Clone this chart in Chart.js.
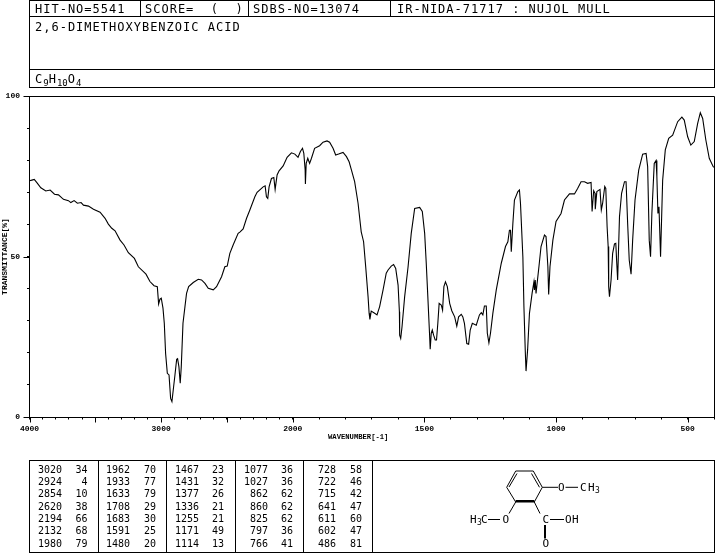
<!DOCTYPE html>
<html>
<head>
<meta charset="utf-8">
<style>
html,body{margin:0;padding:0;background:#fff;width:715px;height:553px;overflow:hidden}
#wrap{position:relative;width:715px;height:553px}
canvas{position:absolute;left:0;top:0;display:block}
.t{position:absolute;font-family:"DejaVu Sans Mono",monospace;color:#000;white-space:pre;line-height:1}
.h{font-size:12px;letter-spacing:1px}
.n{font-size:10px;text-align:right}
.b{position:absolute;background:#000}
sub{font-size:9px;vertical-align:baseline;position:relative;top:3px;letter-spacing:0}
svg{position:absolute;left:0;top:0}
svg text{font-family:"DejaVu Sans Mono",monospace;font-size:11px;fill:#000}
</style>
</head>
<body>
<div id="wrap"><canvas id="c" width="715" height="553"></canvas></div>
<script src="https://cdn.jsdelivr.net/npm/chart.js@4/dist/chart.umd.js"></script>
<script>
const wavenumbers = [4000,3982,3964,3944,3914,3876,3843,3810,3780,3742,3704,3686,3661,3636,3608,3590,3552,3514,3464,3426,3401,3375,3350,3312,3282,3249,3203,3173,3115,3085,3054,3029,3019,3009,2999,2986,2976,2966,2953,2940,2928,2918,2908,2895,2882,2875,2865,2855,2847,2834,2819,2807,2791,2756,2718,2693,2667,2642,2604,2579,2541,2516,2498,2478,2453,2415,2402,2377,2351,2326,2288,2271,2225,2210,2200,2190,2180,2162,2144,2134,2129,2119,2104,2073,2043,2010,1992,1980,1971,1963,1958,1953,1952,1949,1943,1936,1929,1917,1898,1885,1870,1860,1847,1837,1826,1809,1796,1786,1777,1765,1752,1740,1731,1723,1714,1710,1707,1702,1689,1680,1670,1657,1645,1638,1626,1617,1609,1600,1595,1594,1590,1585,1575,1562,1550,1537,1518,1508,1499,1493,1487,1480,1478,1474,1470,1465,1459,1454,1449,1444,1436,1431,1426,1420,1413,1404,1396,1385,1377,1370,1360,1354,1348,1339,1332,1326,1318,1303,1291,1284,1278,1272,1265,1261,1255,1249,1240,1227,1208,1192,1183,1177,1173,1170,1164,1158,1145,1139,1135,1126,1122,1117,1114,1108,1101,1091,1084,1082,1079,1076,1065,1057,1044,1038,1031,1028,1023,1012,1000,981,968,949,930,918,905,892,880,867,863,861,857,852,851,845,833,828,823,815,811,806,802,800,797,791,785,778,773,770,766,759,751,740,734,728,722,715,709,700,686,671,658,652,646,641,636,627,620,617,613,609,603,595,585,572,557,538,522,513,500,488,475,462,452,443,431,418,403,400];
const transmittance = [73.6,73.8,74.0,73.0,71.4,70.4,70.7,69.4,69.2,67.8,67.4,66.8,67.4,66.6,66.8,66.0,65.7,64.7,63.8,61.9,60.1,58.8,58.0,55.1,53.6,51.2,49.4,46.8,44.5,42.2,40.9,40.6,35.2,36.7,37.0,33.9,29.2,19.8,13.6,13.1,5.8,4.8,8.4,13.1,18.0,18.2,15.7,10.5,15.7,29.2,34.4,38.5,40.6,41.9,42.9,42.7,41.6,40.1,39.6,40.6,43.7,46.8,47.0,51.0,53.6,57.2,57.6,58.6,61.9,64.5,68.6,70.0,71.7,72.0,68.6,68.1,71.7,74.3,74.6,70.9,70.9,75.4,76.7,78.2,80.9,82.3,81.9,80.9,82.7,83.7,82.1,77.0,72.6,79.0,80.6,79.0,80.6,83.7,84.5,85.6,86.0,85.6,83.7,81.6,81.9,82.4,81.1,79.5,76.9,73.3,66.6,57.7,54.6,46.8,37.5,32.3,30.4,33.0,32.3,31.8,34.4,39.6,44.8,45.8,47.0,47.5,46.3,41.1,32.8,25.5,24.5,28.1,37.5,46.8,57.2,65.0,65.3,64.0,57.2,47.9,37.5,25.0,21.1,26.1,27.1,25.5,24.0,24.0,29.2,35.4,34.9,33.3,40.6,42.1,40.6,35.4,33.1,31.2,28.3,31.2,32.0,31.2,29.2,22.9,22.7,27.1,29.2,28.6,31.8,32.5,31.8,34.6,34.6,26.1,23.1,26.1,32.3,39.6,47.9,53.1,54.6,58.2,58.2,51.5,60.3,67.6,70.2,70.7,66.5,49.9,34.4,20.9,14.3,20.9,32.3,38.5,42.1,39.6,42.7,38.5,46.8,53.1,56.7,56.2,46.8,38.2,46.8,55.1,60.9,63.4,67.6,69.5,69.5,71.2,73.3,73.3,72.8,73.1,64.0,64.0,70.5,69.7,64.7,70.2,70.9,64.5,66.6,71.8,71.2,59.3,53.1,40.6,37.5,42.7,51.0,53.9,54.1,48.9,42.7,62.4,69.7,73.3,73.3,60.3,48.9,44.5,55.1,67.6,76.9,81.9,82.1,78.0,55.1,49.9,63.4,79.0,79.9,74.9,63.4,65.5,49.9,73.8,83.2,86.8,87.8,92.0,93.4,92.5,87.3,84.7,85.8,91.5,94.8,93.0,86.3,80.6,78.0,77.8];

const xTicks = [4000,3900,3800,3700,3600,3500,3400,3300,3200,3100,3000,2900,2800,2700,2600,2500,2400,2300,2200,2100,2000,1900,1800,1700,1600,1500,1400,1300,1200,1100,1000,900,800,700,600,500,400];
const xMajorTicks = [4000,3500,3000,2500,2000,1500,1000,500];
const xLabels = [4000,3000,2000,1500,1000,500];
const yMajorTicks = [0,50,100];

const xTitle = "WAVENUMBER[-1]";
const yTitle = "TRANSMITTANCE[%]";
const headerHit = "HIT-NO=5541";
const headerScore = "SCORE=  (  )";
const headerSdbs = "SDBS-NO=13074";
const headerIr = "IR-NIDA-71717 : NUJOL MULL";
const compoundName = "2,6-DIMETHOXYBENZOIC ACID";

const peakCol1 = [[3020,34],[2924,4],[2854,10],[2620,38],[2194,66],[2132,68],[1980,79]];
const peakCol2 = [[1962,70],[1933,77],[1633,79],[1708,29],[1683,30],[1591,25],[1480,20]];
const peakCol3 = [[1467,23],[1431,32],[1377,26],[1336,21],[1255,21],[1171,49],[1114,13]];
const peakCol4 = [[1077,36],[1027,36],[862,62],[860,62],[825,62],[797,36],[766,41]];
const peakCol5 = [[728,58],[722,46],[715,42],[641,47],[611,60],[602,47],[486,81]];

class IRScale extends Chart.LinearScale {
  static id = 'irscale';
  static defaults = Chart.LinearScale.defaults;
  _u(v){ return v >= 2000 ? 4000 - v : 2000 + (2000 - v) * 2; }
  getPixelForValue(v){ return this.left + this.width * this._u(v) / 5200; }
  getValueForPixel(p){
    const u = (p - this.left) / this.width * 5200;
    return u <= 2000 ? 4000 - u : 2000 - (u - 2000) / 2;
  }
}
Chart.register(IRScale);

const FONT = '"Liberation Mono", monospace';
const frame = {
  id:'frame',
  afterDraw(chart){
    const {ctx, chartArea:a, scales:{x,y}} = chart;
    ctx.save();
    ctx.strokeStyle='#000'; ctx.lineWidth=1;
    ctx.beginPath();
    ctx.moveTo(a.left, a.top+.5); ctx.lineTo(a.right+.5, a.top+.5); ctx.lineTo(a.right+.5, a.bottom);
    xMajorTicks.forEach(v=>{const p=Math.round(x.getPixelForValue(v))+.5; ctx.moveTo(p,a.bottom); ctx.lineTo(p,a.bottom+5.5);});
    yMajorTicks.forEach(v=>{const p=Math.round(y.getPixelForValue(v))+.5; ctx.moveTo(a.left,p); ctx.lineTo(a.left-6,p);});
    ctx.stroke();
    ctx.fillStyle='#000';
    ctx.font='bold 7.2px '+FONT;
    ctx.textAlign='left'; ctx.textBaseline='middle';
    ctx.fillText(xTitle,328,437.5);
    ctx.restore();
  }
};

new Chart(document.getElementById('c'),{
  type:'line',
  data:{datasets:[{
    data:wavenumbers.map((w,i)=>({x:w,y:transmittance[i]})),
    borderColor:'#000',borderWidth:1.1,pointRadius:0,tension:0,fill:false
  }]},
  options:{
    responsive:false,animation:false,devicePixelRatio:1,
    layout:{autoPadding:false,padding:{top:96,right:1,left:0,bottom:0}},
    plugins:{legend:{display:false},tooltip:{enabled:false},title:{display:false}},
    scales:{
      x:{
        type:'irscale',min:400,max:4000,
        afterBuildTicks(s){s.ticks=xTicks.map(v=>({value:v}));},
        afterFit(s){s.height=136;s.paddingLeft=0;s.paddingRight=0;},
        border:{display:true,color:'#000',width:1},
        grid:{display:true,drawOnChartArea:false,drawTicks:true,tickLength:2.5,tickColor:'#000',tickWidth:1},
        ticks:{autoSkip:false,maxRotation:0,minRotation:0,color:'#000',padding:5,
          font:{family:FONT,size:8,weight:'bold'},
          callback:v=>xLabels.includes(v)?String(v):''}
      },
      y:{
        type:'linear',min:0,max:100,
        afterFit(s){s.width=29.5;},
        border:{display:true,color:'#000',width:1},
        grid:{display:true,drawOnChartArea:false,drawTicks:true,tickLength:2.5,tickColor:'#000',tickWidth:1},
        title:{display:true,text:yTitle,color:'#000',padding:{top:0,bottom:0},font:{family:FONT,size:8,weight:'bold'}},
        ticks:{stepSize:10,autoSkip:false,color:'#000',padding:7,
          font:{family:FONT,size:8,weight:'bold'},
          callback:v=>yMajorTicks.includes(v)?String(v):''}
      }
    }
  },
  plugins:[frame]
});

const wrap=document.getElementById('wrap');
function box(x,y,w,h){const d=document.createElement('div');d.className='b';d.style.cssText=`left:${x}px;top:${y}px;width:${w}px;height:${h}px`;wrap.appendChild(d);}
function txt(x,y,s,cls,html){const d=document.createElement('div');d.className='t '+cls;d.style.left=x+'px';d.style.top=y+'px';if(html)d.innerHTML=s;else d.textContent=s;wrap.appendChild(d);return d;}

// header frame
[0,16,69,87].forEach(y=>box(29,y,686,1));
box(29,0,1,88);box(714,0,1,88);
[140,248,390].forEach(x=>box(x,0,1,17));
txt(35,3,headerHit,'h');
txt(145,3,headerScore,'h');
txt(253,3,headerSdbs,'h');
txt(397,3,headerIr,'h');
txt(35,21,compoundName,'h');
txt(35,73,'C<sub>9</sub>H<sub>10</sub>O<sub>4</sub>','h',true);

// peak table
box(29,460,343,1);box(29,552,343,1);box(29,460,1,93);
[98,166,235,303].forEach(x=>box(x,460,1,92));
box(372,460,343,1);box(372,552,343,1);box(372,460,1,93);box(714,460,1,93);
const rowY=[464.5,477,489.2,501.5,514,526,538.5];
[[peakCol1,62,87.5],[peakCol2,130,156],[peakCol3,199,224],[peakCol4,268,293],[peakCol5,336,362]].forEach(([col,a,b])=>{
  col.forEach((r,i)=>{
    let d=txt(0,rowY[i],String(r[0]),'n');d.style.left=(a-40)+'px';d.style.width='40px';
    d=txt(0,rowY[i],String(r[1]),'n');d.style.left=(b-40)+'px';d.style.width='40px';
  });
});

// structure
const NS='http://www.w3.org/2000/svg';
const svg=document.createElementNS(NS,'svg');
svg.setAttribute('width',715);svg.setAttribute('height',553);
svg.innerHTML=`
<g stroke="#000" stroke-width="1" fill="none">
<path d="M515.7 471H533.3L542.3 487.3L534.3 502H515.7L506.7 487.3Z"/>
<path d="M517 473.5L509 487M531.5 473.5L539.5 487.3"/>
<path d="M515.7 501H534.3" stroke-width="2"/>
<path d="M542.3 487.3H558M565.5 487.3H578"/>
<path d="M515.7 502L509 513.5M534.3 502L540 513.5"/>
<path d="M488 519.5H500M550 519.5H564"/>
<path d="M545 525V538.5" stroke-width="2"/>
</g>
<text x="558" y="491">O</text>
<text x="580" y="491">C</text><text x="588" y="491">H</text><text x="595" y="492.5" style="font-size:8px">3</text>
<text x="470" y="523">H</text><text x="477" y="525" style="font-size:8px">3</text><text x="481" y="523">C</text>
<text x="502.5" y="523">O</text>
<text x="542.5" y="523">C</text>
<text x="565" y="523">O</text><text x="572" y="523">H</text>
<text x="542.5" y="547">O</text>`;
wrap.appendChild(svg);
</script>
</body>
</html>
